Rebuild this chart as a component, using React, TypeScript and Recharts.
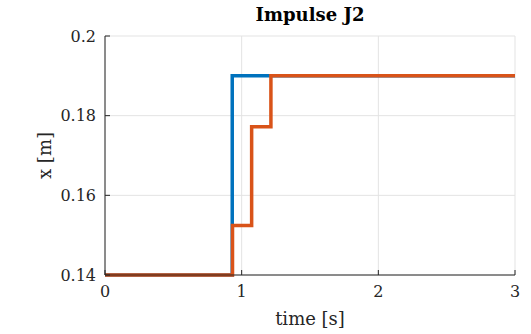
import { LineChart, Line, XAxis, YAxis, CartesianGrid } from "recharts";

const blueT = [0, 0.931, 3];
const blueX = [0.14, 0.19, 0.19];
const orangeT = [0, 0.933, 1.073, 1.214, 3];
const orangeX = [0.14, 0.1524, 0.1772, 0.19, 0.19];
const xTicks = [0, 1, 2, 3];
const yTicks = [0.14, 0.16, 0.18, 0.2];

const blueData = blueT.map((t, i) => ({ t, x: blueX[i] }));
const orangeData = orangeT.map((t, i) => ({ t, x: orangeX[i] }));

const serif = "DejaVu Serif";
const tickStyle = { fill: "#262626", fontSize: 16, fontFamily: serif };
const labelStyle = { fill: "#262626", fontSize: 18, fontFamily: serif };
const axisColor = "#262626";

export default function App() {
  return (
    <div style={{ position: "absolute", left: 0, top: 0, width: 531, height: 334, background: "#fff", fontFamily: serif }}>
      <div style={{ position: "absolute", left: 105, width: 410, top: 4, textAlign: "center", fontFamily: serif, fontWeight: 700, fontSize: 18, lineHeight: "22px", color: "#000" }}>
        Impulse J2
      </div>
      <LineChart width={531} height={334} margin={{ top: 36, right: 16, bottom: 29, left: 0 }}>
        <CartesianGrid stroke="#e3e3e3" strokeWidth={1} />
        <XAxis xAxisId={0} dataKey="t" type="number" domain={[0, 3]} ticks={xTicks} height={30}
          allowDuplicatedCategory={false} stroke={axisColor} tick={tickStyle} tickSize={-5} tickMargin={16}
          label={{ value: "time [s]", position: "insideBottom", offset: -20, style: labelStyle }} />
        <XAxis xAxisId="top" orientation="top" type="number" domain={[0, 3]} ticks={xTicks}
          stroke={axisColor} tickFormatter={() => ""} tickSize={-5} height={0} />
        <YAxis yAxisId={0} type="number" domain={[0.14, 0.2]} ticks={yTicks} width={105}
          stroke={axisColor} tick={tickStyle} tickSize={-5} tickMargin={14}
          label={{ value: "x [m]", angle: -90, position: "insideLeft", offset: 45, style: { ...labelStyle, textAnchor: "middle" } }} />
        <YAxis yAxisId="right" orientation="right" type="number" domain={[0.14, 0.2]} ticks={yTicks}
          stroke={axisColor} tickFormatter={() => ""} tickSize={-5} width={0} />
        <Line data={blueData} dataKey="x" type="stepAfter" stroke="#0072BD" strokeWidth={3.5}
          dot={false} isAnimationActive={false} />
        <Line data={orangeData} dataKey="x" type="stepAfter" stroke="#D95319" strokeWidth={3.5}
          dot={false} isAnimationActive={false} />
      </LineChart>
    </div>
  );
}
